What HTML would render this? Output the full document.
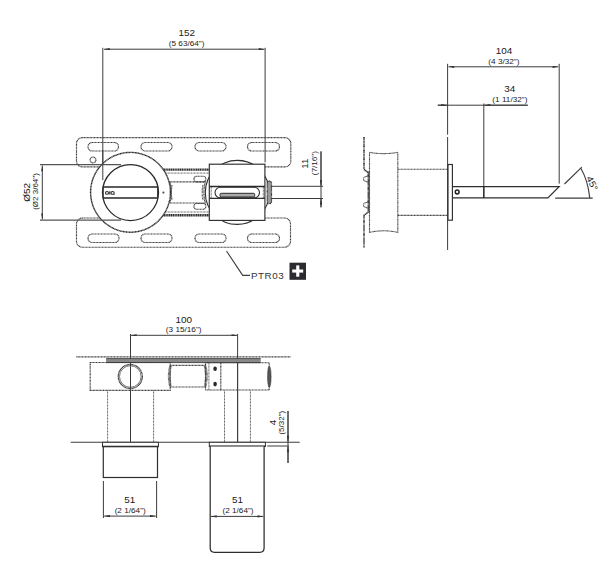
<!DOCTYPE html>
<html><head><meta charset="utf-8">
<style>
html,body{margin:0;padding:0;background:#fff;width:616px;height:582px;overflow:hidden}
svg{display:block}
text{font-family:"Liberation Sans",sans-serif;fill:#1a1a1a}
.big{font-size:9.9px}
.sm{font-size:8.2px}
.ln{stroke:#3c3c3c;stroke-width:1;fill:none}
.ob{stroke:#2e2e2e;stroke-width:1.25;fill:none}
.dt{stroke:#383838;stroke-width:1.15;fill:none;stroke-dasharray:1 0.45}
.dtl{stroke:#555;stroke-width:1;fill:none;stroke-dasharray:0.9 0.55}
.hat{stroke:#222;stroke-width:2.2;fill:none;stroke-dasharray:1 0.35}
</style></head>
<body>
<svg width="616" height="582" viewBox="0 0 616 582">
<defs>
<marker id="ar" viewBox="0 0 10 4" refX="10" refY="2" markerWidth="7.5" markerHeight="2.3" orient="auto-start-reverse" markerUnits="userSpaceOnUse">
<path d="M0,0 L10,2 L0,4 z" fill="#333"/>
</marker>
</defs>

<!-- ============ TOP VIEW ============ -->
<text class="big" transform="translate(186.7,36) scale(1,0.95)" text-anchor="middle">152</text>
<text class="sm" transform="translate(186.6,46.2) scale(1,0.95)" text-anchor="middle">(5 63/64")</text>
<line class="ln" x1="102.8" y1="47.8" x2="102.8" y2="180.1"/>
<line class="ln" x1="265.1" y1="47.8" x2="265.1" y2="162.4"/>
<line class="ln" x1="104" y1="49.2" x2="264.5" y2="49.2" marker-start="url(#ar)" marker-end="url(#ar)"/>

<!-- plates -->
<rect class="dt" x="76.5" y="137.6" width="214.3" height="29.3" rx="6"/>
<rect class="dt" x="76.5" y="218" width="214" height="29.2" rx="6"/>
<g class="dt">
<rect x="88" y="142.5" width="30.5" height="8.5" rx="4.2"/>
<rect x="141" y="142.5" width="31" height="8.5" rx="4.2"/>
<rect x="195" y="142.5" width="31" height="8.5" rx="4.2"/>
<rect x="247.5" y="142.5" width="32" height="8.5" rx="4.2"/>
<rect x="88" y="234" width="31" height="8.5" rx="4.2"/>
<rect x="141" y="234" width="31" height="8.5" rx="4.2"/>
<rect x="195" y="234" width="31" height="8.5" rx="4.2"/>
<rect x="247.5" y="234" width="32" height="8.5" rx="4.2"/>
<circle cx="93" cy="160" r="2.9"/>
</g>

<!-- threaded rods -->
<rect x="150" y="165.8" width="59.3" height="2.4" fill="#fff"/>
<rect x="150" y="216.8" width="59.3" height="2.4" fill="#fff"/>
<line x1="160" y1="169.7" x2="209.3" y2="169.7" stroke="#333" stroke-width="2.2" stroke-dasharray="1.4 0.4"/>
<line x1="160" y1="215.3" x2="209.3" y2="215.3" stroke="#333" stroke-width="2.5" stroke-dasharray="1.4 0.4"/>
<line class="dtl" x1="165" y1="173.1" x2="209.3" y2="173.1"/>
<line class="dtl" x1="165" y1="212" x2="209" y2="212"/>
<!-- inner cylinder -->
<path class="dt" d="M169.8,181.8 L205.3,181.8 Q202.5,192.4 205.3,203 L169.8,203 Q172.6,192.4 169.8,181.8 Z"/>
<path class="dtl" d="M172,185 Q170.5,192.4 172,200 M203,185 Q201.5,192.4 203,200" style="stroke-width:1.4"/>
<rect class="dt" x="194" y="176.2" width="11.8" height="5.6" rx="2.5"/>
<rect class="dt" x="194" y="203.5" width="11.8" height="5.7" rx="2.5"/>

<!-- wheel behind box -->
<circle cx="237.3" cy="192.4" r="32" fill="none" stroke="#2e2e2e" stroke-width="1.1"/>

<!-- handle circle -->
<circle cx="130.5" cy="192.3" r="39.9" fill="#fff" stroke="#2a2a2a" stroke-width="1.4" stroke-dasharray="1.2 0.3"/>
<line class="ln" x1="40" y1="164.7" x2="121" y2="164.7" style="stroke:#555;stroke-width:1.2"/>
<line class="ln" x1="40" y1="220.1" x2="121" y2="220.1" style="stroke:#555;stroke-width:1.2"/>
<circle cx="130.5" cy="192.6" r="28" fill="#fff" stroke="#2a2a2a" stroke-width="1.3"/>
<line x1="102.8" y1="187.1" x2="158" y2="187.1" stroke="#262626" stroke-width="1.5"/>
<line x1="102.8" y1="198.1" x2="158" y2="198.1" stroke="#262626" stroke-width="1.5"/>
<line x1="103.2" y1="187.1" x2="103.2" y2="198.1" stroke="#333" stroke-width="1.1"/>
<line x1="157.6" y1="187.1" x2="157.6" y2="198.1" stroke="#333" stroke-width="1.1"/>
<g fill="none" stroke="#2a2a2a" stroke-width="1.1"><ellipse cx="107" cy="192.9" rx="1.5" ry="1.4"/><ellipse cx="112.6" cy="192.9" rx="1.6" ry="1.4"/></g><rect x="109.2" y="191.3" width="1.2" height="3.2" fill="#2a2a2a"/><line x1="113.5" y1="194.4" x2="114.6" y2="194.4" stroke="#2a2a2a" stroke-width="0.8"/>
<line class="ln" x1="102.8" y1="150" x2="102.8" y2="180.1"/>
<circle cx="163.4" cy="192.6" r="1.1" fill="#555"/>

<!-- box -->
<rect x="209.3" y="164.2" width="55.6" height="56.2" fill="#fff" stroke="#2e2e2e" stroke-width="1.15"/>
<line x1="209.3" y1="186.4" x2="264.9" y2="186.4" stroke="#2a2a2a" stroke-width="1.5"/>
<line class="ob" x1="209.3" y1="198.4" x2="264.9" y2="198.4" style="stroke-width:1.2"/>
<line class="dtl" x1="211.2" y1="187" x2="211.2" y2="198"/>
<line class="dtl" x1="263.3" y1="187" x2="263.3" y2="198"/>
<path class="ob" d="M220.3,187.3 L254.2,187.3 A5.2,5.2 0 0 1 254.2,197.9 L220.3,197.9 A5.2,5.2 0 0 1 220.3,187.3 Z" style="stroke-width:1.1"/>
<rect x="220" y="193.3" width="34.7" height="3.7" rx="1.2" fill="#aaa" stroke="#2a2a2a" stroke-width="1"/>
<!-- nut -->
<rect x="267.2" y="181.2" width="4.3" height="22.4" rx="1.8" fill="#999" stroke="#333" stroke-width="1.2" stroke-dasharray="0.9 0.4"/>
<!-- 11 dim -->
<line class="ln" x1="271" y1="186.3" x2="323" y2="186.3"/>
<line class="ln" x1="271" y1="198.5" x2="323" y2="198.5"/>
<line class="ln" x1="321" y1="151.4" x2="321" y2="207.3"/>
<line class="ln" x1="321" y1="151.4" x2="321" y2="185.8" marker-end="url(#ar)"/>
<line class="ln" x1="321" y1="207.3" x2="321" y2="199" marker-end="url(#ar)"/>
<text class="big" transform="translate(308,163.7) rotate(-90) scale(1,0.95)" text-anchor="middle">11</text>
<text class="sm" transform="translate(317.2,163.2) rotate(-90) scale(1,0.95)" text-anchor="middle">(7/16")</text>

<!-- Ø52 dim -->
<line class="ln" x1="42.3" y1="165.5" x2="42.3" y2="219.3" marker-start="url(#ar)" marker-end="url(#ar)"/>
<text class="big" transform="translate(30.2,192.4) rotate(-90) scale(1,0.95)" text-anchor="middle" style="font-size:10px">Ø52</text>
<text class="sm" transform="translate(38.2,191.5) rotate(-90) scale(1,0.95)" text-anchor="middle" style="font-size:8px">(Ø2 3/64")</text>

<!-- PTR03 -->
<polyline class="ln" points="226.5,251 242.7,275.4 250,275.4" style="stroke-width:1.1"/>
<text x="251" y="279.1" style="font-size:9.8px;letter-spacing:0.55px;fill:#333">PTR03</text>
<rect x="289.5" y="262.7" width="16.5" height="17.1" fill="#2b2b30"/>
<rect x="292.2" y="269.5" width="11" height="3.1" fill="#fff"/>
<rect x="296.2" y="265.4" width="3.1" height="11.3" fill="#fff"/>

<!-- ============ SIDE VIEW ============ -->
<text class="big" transform="translate(503.9,53.6) scale(1,0.95)" text-anchor="middle">104</text>
<text class="sm" transform="translate(503.9,63.9) scale(1,0.95)" text-anchor="middle">(4 3/32")</text>
<line class="ln" x1="448.5" y1="66.8" x2="558.3" y2="66.8" marker-start="url(#ar)" marker-end="url(#ar)"/>
<line class="ln" x1="447.6" y1="63.8" x2="447.6" y2="134.7"/>
<line class="ln" x1="447.6" y1="137" x2="447.6" y2="250"/>
<line class="ln" x1="559.2" y1="63.8" x2="559.2" y2="183.7"/>

<text class="big" transform="translate(509.7,91.7) scale(1,0.95)" text-anchor="middle">34</text>
<text class="sm" transform="translate(509.9,101.9) scale(1,0.95)" text-anchor="middle">(1 11/32")</text>
<line class="ln" x1="437.8" y1="105.2" x2="527.7" y2="105.2"/>
<line class="ln" x1="437.8" y1="105.2" x2="447" y2="105.2" marker-end="url(#ar)"/>
<line class="ln" x1="527.7" y1="105.2" x2="484.5" y2="105.2" marker-end="url(#ar)"/>
<line class="ln" x1="483.8" y1="103.5" x2="483.8" y2="198"/>

<!-- wall (hatched) -->
<path d="M364,137 L364,169.5 L368.3,172.5 L368.3,212 L364,215.3 L364,247.5" fill="none" stroke="#2a2a2a" stroke-width="1.6" stroke-dasharray="0.9 0.4"/>
<path d="M369.3,171 L369.3,213" stroke="#333" stroke-width="1.2" fill="none"/>
<path class="dt" d="M368.5,176 Q363.5,176.5 363.5,179 Q363.5,181.5 368.5,182 M368.5,202 Q363.5,202.5 363.5,205 Q363.5,207.5 368.5,208"/>
<!-- drum -->
<path d="M369.5,152.4 Q383.7,154.8 397.8,152.4 L397.8,232.4 Q383.7,229.2 369.5,232.4 Z" fill="#fff" stroke="#4a4a4a" stroke-width="1.1" stroke-dasharray="1 0.3"/>
<!-- dotted cylinder -->
<line class="dt" x1="398" y1="169.2" x2="448" y2="169.2"/>
<line class="dt" x1="398" y1="215.3" x2="448" y2="215.3"/>
<!-- flange -->
<rect x="448" y="164.5" width="4.4" height="55.7" fill="#fff" stroke="#2e2e2e" stroke-width="1.15"/>
<!-- spout -->
<path d="M452.8,186.6 L559.1,186.6 L547.9,197.9 L452.8,197.9" fill="none" stroke="#2e2e2e" stroke-width="1.25"/>
<circle cx="457.2" cy="192" r="1.9" fill="none" stroke="#222" stroke-width="1.5"/>
<line x1="483.8" y1="186.6" x2="483.8" y2="197.9" stroke="#2a2a2a" stroke-width="1.3"/>
<!-- 45 deg -->
<line class="ln" x1="564.5" y1="184" x2="581.8" y2="167.2" style="stroke-width:1.15"/>
<line class="ln" x1="555.2" y1="198.1" x2="592.7" y2="198.1" style="stroke-width:1.15"/>
<path d="M580.8,168.3 Q587.8,180 589.8,198" class="ln" style="stroke-width:1.15"/>
<text transform="translate(589.3,184.9) rotate(64) scale(1,0.92)" text-anchor="middle" style="font-size:10px">45°</text>

<!-- ============ BOTTOM VIEW ============ -->
<text class="big" transform="translate(183.8,322.8) scale(1,0.95)" text-anchor="middle">100</text>
<text class="sm" transform="translate(183.7,332.3) scale(1,0.95)" text-anchor="middle">(3 15/16")</text>
<line class="ln" x1="131" y1="335.3" x2="237.3" y2="335.3" marker-start="url(#ar)" marker-end="url(#ar)"/>
<line class="ln" x1="130.5" y1="334" x2="130.5" y2="442.5"/>
<line class="ln" x1="237.6" y1="334" x2="237.6" y2="442.5"/>

<!-- plate line -->
<line class="dt" x1="76.3" y1="356.8" x2="290.8" y2="356.8" style="stroke-width:1.3"/>
<rect x="106.1" y="358.8" width="154.6" height="3.7" fill="#888"/>
<line x1="106.1" y1="358.6" x2="260.7" y2="358.6" stroke="#3a3a3a" stroke-width="0.9"/>
<line x1="106.1" y1="362.6" x2="260.7" y2="362.6" stroke="#3a3a3a" stroke-width="0.9"/>
<!-- body left -->
<rect class="dt" x="90.2" y="362.5" width="80" height="27.8" fill="#fff"/>
<circle cx="130.3" cy="376.5" r="12" fill="#fff" stroke="#333" stroke-width="1.3" stroke-dasharray="1 0.35"/>
<circle cx="130.3" cy="376.5" r="10.8" fill="none" stroke="#666" stroke-width="0.9"/>
<line class="ln" x1="130.5" y1="362" x2="130.5" y2="442.5"/>
<!-- middle cylinder -->
<line class="dt" x1="170.2" y1="365.3" x2="205.5" y2="365.3"/>
<line class="dt" x1="170.2" y1="387" x2="205.5" y2="387"/>
<path d="M170.5,366 Q168,376.3 170.5,386.5 M205,366 Q207.8,376.3 205,386.5" fill="none" stroke="#444" stroke-width="2.8" stroke-dasharray="0.7 0.5"/>
<!-- block -->
<path class="dt" d="M205.5,362.7 L269.2,362.7 L269.2,390 L205.5,390 Z" fill="#fff"/>
<line class="dtl" x1="208.9" y1="363" x2="208.9" y2="390"/>
<line class="dt" x1="220.8" y1="363" x2="220.8" y2="390"/>
<ellipse cx="215.1" cy="368.8" rx="1.8" ry="2.3" fill="#2a2a2a"/>
<ellipse cx="215.1" cy="384.1" rx="1.8" ry="2.3" fill="#2a2a2a"/>
<ellipse cx="269.3" cy="376.7" rx="1.8" ry="10.6" fill="#555" stroke="#333" stroke-width="0.8" stroke-dasharray="0.7 0.4"/>
<line class="ln" x1="237.6" y1="362" x2="237.6" y2="442.5"/>

<!-- stems -->
<g class="dtl">
<line x1="107.6" y1="390.5" x2="107.6" y2="442"/>
<line x1="153.6" y1="390.5" x2="153.6" y2="442"/>
<line x1="224.5" y1="390.5" x2="224.5" y2="442"/>
<line x1="250.4" y1="390.5" x2="250.4" y2="442"/>
</g>
<!-- wall line -->
<line class="ln" x1="70.7" y1="442.3" x2="299.7" y2="442.3" style="stroke-width:1.1"/>
<!-- left cup -->
<rect x="102.5" y="442.3" width="55.9" height="4.3" fill="#fff" stroke="#333" stroke-width="1"/>
<line x1="102.5" y1="446.4" x2="158.4" y2="446.4" stroke="#222" stroke-width="1.5"/>
<rect x="103.3" y="446.7" width="54.2" height="30.8" fill="#fff" stroke="#2e2e2e" stroke-width="1.2"/>
<!-- right cup -->
<rect x="209.3" y="442.3" width="56.1" height="4.1" fill="#fff" stroke="#333" stroke-width="1"/>
<line x1="209.3" y1="446.3" x2="265.4" y2="446.3" stroke="#222" stroke-width="1.4"/>
<path d="M210.2,446.5 L210.2,548 Q210.2,552.3 214.5,552.3 L259.8,552.3 Q264.1,552.3 264.1,548 L264.1,446.5" fill="#fff" stroke="#2e2e2e" stroke-width="1.25"/>

<!-- 4 dim -->
<line class="ln" x1="267.2" y1="446" x2="289" y2="446"/>
<line class="ln" x1="288" y1="411" x2="288" y2="463"/>
<line class="ln" x1="288" y1="411" x2="288" y2="441.6" marker-end="url(#ar)"/>
<line class="ln" x1="288" y1="463" x2="288" y2="446.6" marker-end="url(#ar)"/>
<text class="big" transform="translate(275.6,422.5) rotate(-90) scale(1,0.95)" text-anchor="middle">4</text>
<text class="sm" transform="translate(284.1,422.7) rotate(-90) scale(1,0.95)" text-anchor="middle" style="font-size:8px">(5/32")</text>

<!-- 51 dims -->
<line class="ln" x1="103.4" y1="481" x2="103.4" y2="518"/>
<line class="ln" x1="156.6" y1="481" x2="156.6" y2="518"/>
<line class="ln" x1="104.2" y1="516.1" x2="155.8" y2="516.1" marker-start="url(#ar)" marker-end="url(#ar)"/>
<text class="big" transform="translate(129.7,503.0) scale(1,0.95)" text-anchor="middle">51</text>
<text class="sm" transform="translate(130.2,513.4) scale(1,0.95)" text-anchor="middle">(2 1/64")</text>

<line class="ln" x1="211" y1="516.4" x2="263.3" y2="516.4" marker-start="url(#ar)" marker-end="url(#ar)"/>
<text class="big" transform="translate(237.5,503.2) scale(1,0.95)" text-anchor="middle">51</text>
<text class="sm" transform="translate(238,513.2) scale(1,0.95)" text-anchor="middle">(2 1/64")</text>
</svg>
</body></html>
